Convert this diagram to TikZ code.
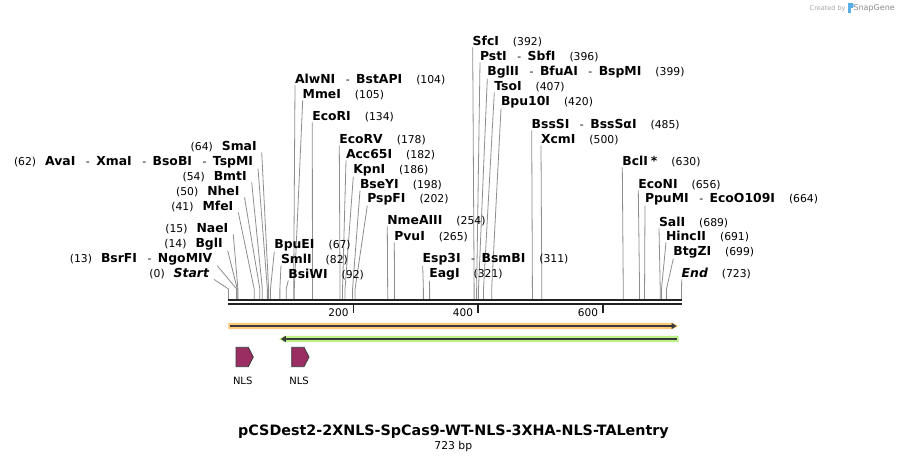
\documentclass[tikz,border=0pt]{standalone}
\usepackage{fontspec}
\setmainfont{DejaVu Sans}
\usetikzlibrary{arrows.meta}
\definecolor{siteg}{HTML}{8E8E8E}
\definecolor{bbcol}{HTML}{222222}
\definecolor{orfill}{HTML}{FFCB78}
\definecolor{grfill}{HTML}{BDF28A}
\definecolor{featdark}{HTML}{3A3A3A}
\definecolor{nlscol}{HTML}{9A2E63}
\definecolor{sgblue}{HTML}{5AAEE6}
\newcommand\enz[1]{{\fontsize{12.4}{14}\selectfont\bfseries #1}}
\newcommand\enzi[1]{{\fontsize{12.4}{14}\selectfont\bfseries\itshape #1}}
\newcommand\bpn[1]{{\fontsize{10.8}{12}\selectfont #1}}
\newcommand\dsep{\bpn{\hspace{10.5pt}-\hspace{6.5pt}}}
\newcommand\ngap{\hspace{14pt}}
\newcommand\lgap{\hspace{9pt}}
\tikzset{
  lab/.style={inner sep=0pt, outer sep=0pt, text=black},
  siteline/.style={draw=siteg, line width=0.8pt},
  bbone/.style={draw=bbcol},
  featline/.style={draw=featdark, line width=1.6pt},
  nlsbox/.style={fill=nlscol, draw=featdark, line width=0.8pt, line join=miter},
}
% right labels: id, x, baseline, bp, text
\newcommand\RL[5]{%
  \node[lab,anchor=base west] (#1) at (#2,#3) {#5};
  \coordinate (#1s) at ({228.5+#4*0.6266},289);
  \coordinate (#1b) at ({228.5+#4*0.6266},299);
  \draw[siteline] (#1.south west) -- (#1s) -- (#1b);
}
% left labels: id, xend, baseline, bp, text
\newcommand\LL[5]{%
  \node[lab,anchor=base east] (#1) at (#2,#3) {#5};
  \coordinate (#1s) at ({228.5+#4*0.6266},289);
  \coordinate (#1b) at ({228.5+#4*0.6266},299);
  \draw[siteline] ([xshift=5pt]#1.south east) -- (#1s) -- (#1b);
}
\begin{document}
\begin{tikzpicture}[x=1pt,y=-1pt]
\fill[white] (0,0) rectangle (910,462);
\useasboundingbox (0,0) rectangle (910,462);

% ---- right-hand labels
\RL{sfci}{472.7}{46}{392}{\enz{SfcI}\ngap\bpn{(392)}}
\RL{psti}{480}{61}{396}{\enz{PstI}\dsep\enz{SbfI}\ngap\bpn{(396)}}
\RL{bglii}{487.3}{76}{399}{\enz{BglII}\dsep\enz{BfuAI}\dsep\enz{BspMI}\ngap\bpn{(399)}}
\RL{tsoi}{494.3}{91}{407}{\enz{TsoI}\ngap\bpn{(407)}}
\RL{bpu}{501}{106}{420}{\enz{Bpu10I}\ngap\bpn{(420)}}
\RL{alwni}{295}{84}{104}{\enz{AlwNI}\dsep\enz{BstAPI}\ngap\bpn{(104)}}
\RL{mmei}{302.7}{99}{105}{\enz{MmeI}\ngap\bpn{(105)}}
\RL{ecori}{312.3}{121}{134}{\enz{EcoRI}\ngap\bpn{(134)}}
\RL{bsssi}{531.7}{129}{485}{\enz{BssSI}\dsep\enz{BssSαI}\ngap\bpn{(485)}}
\RL{xcmi}{541}{144}{500}{\enz{XcmI}\ngap\bpn{(500)}}
\RL{ecorv}{339.3}{144}{178}{\enz{EcoRV}\ngap\bpn{(178)}}
\RL{acc}{346}{159}{182}{\enz{Acc65I}\ngap\bpn{(182)}}
\RL{kpni}{353.3}{174}{186}{\enz{KpnI}\ngap\bpn{(186)}}
\RL{bseyi}{360}{189}{198}{\enz{BseYI}\ngap\bpn{(198)}}
\RL{pspfi}{367.3}{203}{202}{\enz{PspFI}\ngap\bpn{(202)}}
\RL{bcli}{622.3}{166}{630}{\enz{BclI\hspace{3pt}*}\ngap\bpn{(630)}}
\RL{econi}{638.3}{189}{656}{\enz{EcoNI}\ngap\bpn{(656)}}
\RL{ppumi}{645}{203}{664}{\enz{PpuMI}\dsep\enz{EcoO109I}\ngap\bpn{(664)}}
\RL{nme}{387.3}{225}{254}{\enz{NmeAIII}\ngap\bpn{(254)}}
\RL{pvui}{394.3}{241}{265}{\enz{PvuI}\ngap\bpn{(265)}}
\RL{sali}{659}{227}{689}{\enz{SalI}\ngap\bpn{(689)}}
\RL{hincii}{666}{241}{691}{\enz{HincII}\ngap\bpn{(691)}}
\RL{btgzi}{673.3}{256}{699}{\enz{BtgZI}\ngap\bpn{(699)}}
\RL{bpuei}{274.3}{249}{67}{\enz{BpuEI}\ngap\bpn{(67)}}
\RL{smli}{281}{264}{82}{\enz{SmlI}\ngap\bpn{(82)}}
\RL{bsiwi}{288.3}{279}{92}{\enz{BsiWI}\ngap\bpn{(92)}}
\RL{esp}{422.7}{263}{311}{\enz{Esp3I}\dsep\enz{BsmBI}\ngap\bpn{(311)}}
\RL{eagi}{429.3}{278}{321}{\enz{EagI}\ngap\bpn{(321)}}
\RL{endl}{681.7}{278}{723}{\enzi{End}\ngap\bpn{(723)}}

% ---- left-hand labels
\LL{smai}{256.7}{151}{64}{\bpn{(64)}\lgap\enz{SmaI}}
\LL{avai}{253}{166}{62}{\bpn{(62)}\lgap\enz{AvaI}\dsep\enz{XmaI}\dsep\enz{BsoBI}\dsep\enz{TspMI}}
\LL{bmti}{246.7}{181}{54}{\bpn{(54)}\lgap\enz{BmtI}}
\LL{nhei}{239.5}{196}{50}{\bpn{(50)}\lgap\enz{NheI}}
\LL{mfei}{233.3}{211}{41}{\bpn{(41)}\lgap\enz{MfeI}}
\LL{naei}{228.3}{233}{15}{\bpn{(15)}\lgap\enz{NaeI}}
\LL{bgli}{222.7}{248}{14}{\bpn{(14)}\lgap\enz{BglI}}
\LL{bsrfi}{212.3}{263}{13}{\bpn{(13)}\lgap\enz{BsrFI}\dsep\enz{NgoMIV}}
\LL{startl}{209}{278}{0}{\bpn{(0)}\lgap\enzi{Start}}

% ---- backbone
\draw[bbone, line width=2.4pt] (228.3,300.2) -- (681.7,300.2);
\draw[bbone, line width=2.2pt] (228.3,304.3) -- (681.7,304.3);

% ---- ticks
\foreach \tx/\tl in {353.5/200, 478/400, 603/600}{
  \draw[bbcol, line width=1.8pt] (\tx,304) -- (\tx,313);
  \node[lab, anchor=base east, font=\fontsize{10.5}{12}\selectfont] at (\tx-5,316.5) {\tl};
}

% ---- features
\fill[orfill] (228.3,322.8) -- (672.5,322.8) -- (678.3,326) -- (672.5,329.2) -- (228.3,329.2) -- cycle;
\draw[featline, -{Triangle[length=5pt,width=6pt]}] (229.5,326) -- (676.5,326);
\fill[grfill] (678.5,335.8) -- (285,335.8) -- (279,339) -- (285,342.2) -- (678.5,342.2) -- cycle;
\draw[featline, -{Triangle[length=5pt,width=6pt]}] (677.3,339) -- (280.8,339);

\draw[nlsbox] (236,347.3) -- (248.3,347.3) -- (253.3,357) -- (248.3,366.7) -- (236,366.7) -- cycle;
\draw[nlsbox] (291.7,347.3) -- (304,347.3) -- (309,357) -- (304,366.7) -- (291.7,366.7) -- cycle;
\node[lab, font=\fontsize{10}{12}\selectfont] (nls1) at (242.7,381) {NLS};
\node[lab, font=\fontsize{10}{12}\selectfont] (nls2) at (299,381) {NLS};

% ---- title
\node[lab, anchor=base, font=\fontsize{14.3}{16}\selectfont\bfseries] (title) at (453.5,435.3) {pCSDest2-2XNLS-SpCas9-WT-NLS-3XHA-NLS-TALentry};
\node[lab, anchor=base, font=\fontsize{10.8}{12}\selectfont] (size) at (453.3,449.5) {723 bp};

% ---- credit
\node[lab, anchor=base east, text=black!35, font=\fontsize{6.5}{8}\selectfont] (cred) at (845.5,10.5) {Created by};
\fill[sgblue] (847.5,3) rectangle (850.5,13.5);
\fill[sgblue] (850.5,3) -- (852.5,3) .. controls (854,3) and (854,8) .. (852.5,8) -- (850.5,8) -- cycle;
\node[lab, anchor=base west, text=black!45, font=\fontsize{8}{9}\selectfont] (sg) at (853.5,11) {SnapGene};
\end{tikzpicture}
\end{document}
